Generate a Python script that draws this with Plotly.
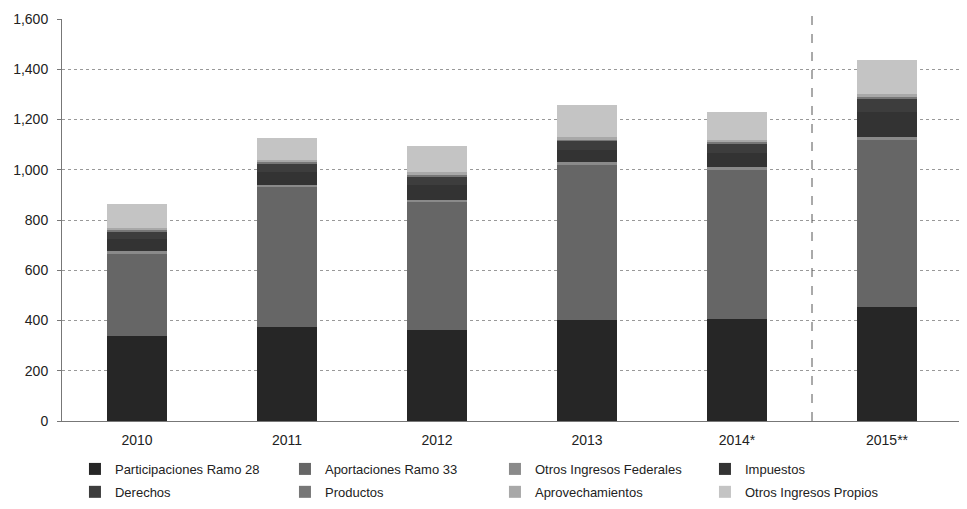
import plotly.graph_objects as go

years = ["2010", "2011", "2012", "2013", "2014*", "2015**"]
participaciones = [340, 375, 362, 402, 406, 454]
aportaciones = [325, 555, 508, 618, 594, 666]
otros_federales = [10, 10, 10, 10, 10, 10]
impuestos = [50, 50, 60, 50, 55, 100]
derechos = [30, 35, 35, 35, 40, 55]
productos = [5, 5, 5, 5, 5, 5]
aprovechamientos = [10, 10, 10, 10, 10, 10]
otros_propios = [95, 85, 105, 128, 110, 137]

series = [
    ("Participaciones Ramo 28", participaciones, "#262626", "legend"),
    ("Aportaciones Ramo 33", aportaciones, "#666666", "legend"),
    ("Otros Ingresos Federales", otros_federales, "#8a8a8a", "legend"),
    ("Impuestos", impuestos, "#333333", "legend"),
    ("Derechos", derechos, "#3d3d3d", "legend2"),
    ("Productos", productos, "#777777", "legend2"),
    ("Aprovechamientos", aprovechamientos, "#a8a8a8", "legend2"),
    ("Otros Ingresos Propios", otros_propios, "#c4c4c4", "legend2"),
]

fig = go.Figure()
for name, vals, col, lg in series:
    fig.add_trace(go.Bar(x=years, y=vals, name=name, marker_color=col,
                         marker_line_width=0, legend=lg))

fig.add_shape(type="line", xref="x", yref="paper", x0=4.5, x1=4.5, y0=0, y1=1.03,
              line=dict(color="#555555", width=1, dash="dash"))

leg_common = dict(orientation="h", x=0.0144, xanchor="left", yanchor="top",
                  entrywidth=165, entrywidthmode="pixels", traceorder="normal",
                  font=dict(size=13), itemwidth=30, tracegroupgap=0,
                  bgcolor="rgba(0,0,0,0)")

fig.update_layout(
    barmode="stack",
    bargap=0.6,
    width=967, height=509,
    margin=dict(l=54, r=13, t=11, b=96, autoexpand=False),
    paper_bgcolor="white", plot_bgcolor="white",
    font=dict(family="Liberation Sans, Arial, sans-serif", color="#222222", size=13),
    showlegend=True,
    legend=dict(y=-0.082, **leg_common),
    legend2=dict(y=-0.139, **leg_common),
    xaxis=dict(showline=True, linecolor="#777777", ticks="outside", ticklen=6,
               tickcolor="rgba(0,0,0,0)", showgrid=False,
               tickfont=dict(size=14)),
    yaxis=dict(range=[0, 1600], dtick=200, tickformat=",", showgrid=True,
               gridcolor="#999999", griddash="dot", gridwidth=1,
               showline=True, linecolor="#777777", ticks="outside", ticklen=4,
               tickcolor="#777777", tickfont=dict(size=14), zeroline=False,
               ticklabelstandoff=6),
)

fig.write_html("out.html")
